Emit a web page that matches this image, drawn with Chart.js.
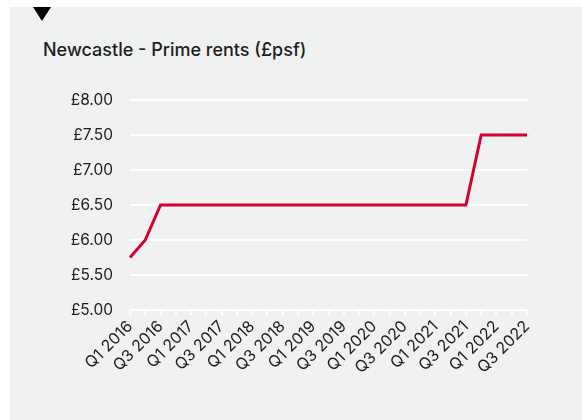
<!DOCTYPE html>
<html>
<head>
<meta charset="utf-8">
<script src="https://cdn.jsdelivr.net/npm/chart.js@4"></script>
<style>
  html, body { margin: 0; padding: 0; background: #fff; }
  body { width: 582px; height: 420px; position: relative; overflow: hidden; font-family: Inter, "Noto Sans", sans-serif; }
  #panel { position: absolute; left: 10px; top: 7px; width: 572px; height: 413px; background: #eff2f1; }
  #marker { position: absolute; left: 33px; top: 7px; width: 0; height: 0;
            border-left: 9px solid transparent; border-right: 9px solid transparent; border-top: 14px solid #000; }
  #title { position: absolute; left: 43px; top: 39px; font-size: 18px; font-weight: 500; color: #1e1e1e; white-space: nowrap; }
  #wrap { position: absolute; left: 10px; top: 7px; width: 572px; height: 413px; }
</style>
</head>
<body>
<div id="panel"></div>
<div id="marker"></div>
<div id="title">Newcastle - Prime rents (£psf)</div>
<div id="wrap"><canvas id="chart"></canvas></div>
<script>
const quarters = [
  'Q1 2016', 'Q2 2016', 'Q3 2016', 'Q4 2016',
  'Q1 2017', 'Q2 2017', 'Q3 2017', 'Q4 2017',
  'Q1 2018', 'Q2 2018', 'Q3 2018', 'Q4 2018',
  'Q1 2019', 'Q2 2019', 'Q3 2019', 'Q4 2019',
  'Q1 2020', 'Q2 2020', 'Q3 2020', 'Q4 2020',
  'Q1 2021', 'Q2 2021', 'Q3 2021', 'Q4 2021',
  'Q1 2022', 'Q2 2022', 'Q3 2022'
];
const primeRents = [
  5.75, 6.00, 6.50, 6.50,
  6.50, 6.50, 6.50, 6.50,
  6.50, 6.50, 6.50, 6.50,
  6.50, 6.50, 6.50, 6.50,
  6.50, 6.50, 6.50, 6.50,
  6.50, 6.50, 6.50, 7.50,
  7.50, 7.50, 7.50
];
const yMin = 5, yMax = 8, yStep = 0.5;

const ctx = document.getElementById('chart').getContext('2d');
const chart = new Chart(ctx, {
  type: 'line',
  data: {
    labels: quarters,
    datasets: [{
      label: 'Prime rents',
      data: primeRents,
      borderColor: '#d4002f',
      borderWidth: 3,
      pointRadius: 0,
      tension: 0,
      fill: false
    }]
  },
  options: {
    responsive: true,
    maintainAspectRatio: false,
    animation: false,
    layout: { padding: { left: 0, top: 93, right: 55, bottom: 0 } },
    plugins: { legend: { display: false }, tooltip: { enabled: false } },
    scales: {
      x: {
        border: { display: false },
        grid: { display: true, drawOnChartArea: false, drawTicks: true, tickLength: 5, color: '#ffffff', lineWidth: 2 },
        ticks: {
          autoSkip: false,
          minRotation: 45,
          maxRotation: 45,
          padding: 2,
          color: '#1e1e1e',
          font: { family: 'Inter', size: 16 },
          callback: function (value, index) {
            // only every second quarter gets a label; every quarter keeps its tick
            return index % 2 === 0 ? this.getLabelForValue(value) : '';
          }
        },
        afterFit: function (scale) { scale.height = 110; }
      },
      y: {
        min: yMin,
        max: yMax,
        border: { display: false },
        grid: { color: '#ffffff', lineWidth: 2, drawTicks: false },
        ticks: {
          stepSize: yStep,
          padding: 17,
          color: '#1e1e1e',
          font: { family: 'Inter', size: 15.5 },
          callback: v => '£' + v.toFixed(2)
        },
        afterFit: function (scale) { scale.width = 120; }
      }
    }
  }
});
</script>
</body>
</html>
